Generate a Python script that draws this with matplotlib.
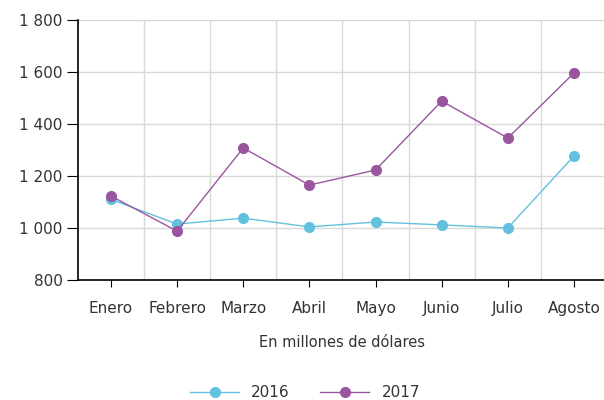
import numpy as np
import matplotlib.pyplot as plt
from matplotlib.ticker import FuncFormatter

meses = ["Enero", "Febrero", "Marzo", "Abril", "Mayo", "Junio", "Julio", "Agosto"]
v2016 = [1110, 1015, 1038, 1004, 1023, 1012, 1000, 1277]
v2017 = [1123, 988, 1308, 1165, 1223, 1488, 1346, 1596]

c2016 = "#62c1de"
c2017 = "#9a559f"

plt.rcParams['font.family'] = ['DejaVu Sans']
fig = plt.figure(figsize=(6.04, 4.0), dpi=100)
ax = fig.add_axes([0.129, 0.30, 0.876, 0.65])

x = np.arange(len(meses))
ax.plot(x, v2016, color=c2016, lw=1, marker='o', ms=7, label="2016", zorder=3)
ax.plot(x, v2017, color=c2017, lw=1, marker='o', ms=7, label="2017", zorder=4)

ax.set_xlim(-0.5, 7.5)
ax.set_ylim(800, 1800)
ax.set_yticks(np.arange(800, 1801, 200))
ax.yaxis.set_major_formatter(FuncFormatter(lambda v, p: f"{int(v):,}".replace(",", " ")))
ax.set_xticks(x)
ax.set_xticklabels(meses)
ax.set_xticks(np.arange(0.5, 7.5, 1), minor=True)

ax.grid(axis='y', which='major', color='#d9d9d9', lw=1)
ax.grid(axis='x', which='minor', color='#d9d9d9', lw=1)
ax.set_axisbelow(True)

for s in ['top', 'right']:
    ax.spines[s].set_visible(False)
for s in ['left', 'bottom']:
    ax.spines[s].set_color('black')
    ax.spines[s].set_linewidth(1.2)

ax.tick_params(axis='y', length=8, labelsize=11, colors='#333333', pad=3)
ax.tick_params(axis='x', which='major', length=5, labelsize=11, colors='#333333', pad=10)
ax.tick_params(axis='x', which='minor', length=0)
ax.tick_params(axis='both', color='black')

ax.set_xlabel("En millones de dólares", fontsize=10.5, color='#333333', labelpad=14)

fig.legend(loc='lower center', bbox_to_anchor=(0.505, -0.035), ncol=2, frameon=False,
           fontsize=11, handlelength=3.2, columnspacing=2.0, labelcolor='#333333')

fig.savefig("out.png", dpi=100)
